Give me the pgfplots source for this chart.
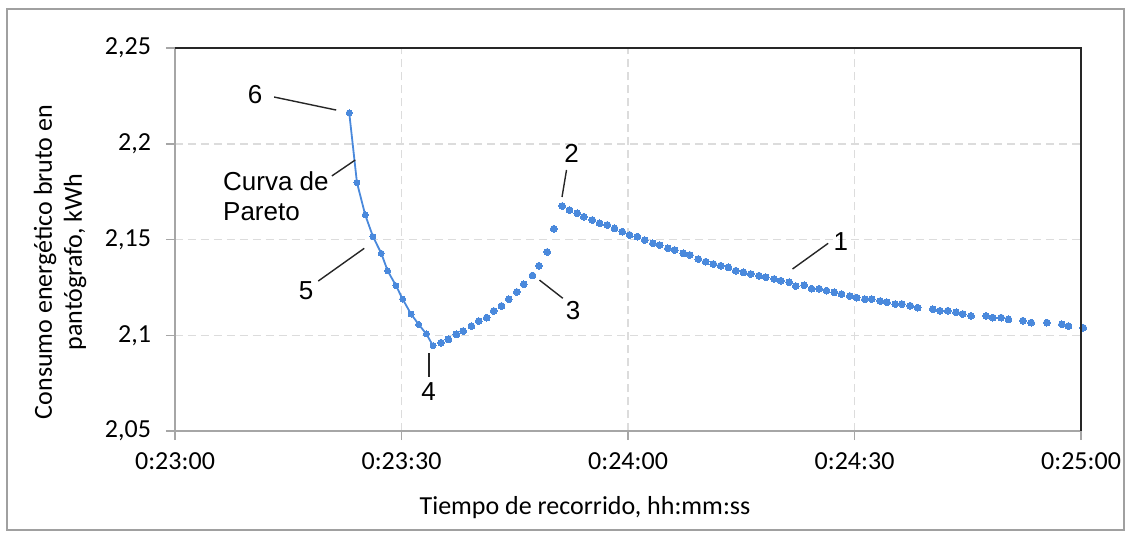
\documentclass[border=0pt]{standalone}
\usepackage{pgfplots}
\pgfplotsset{compat=1.18}
\usepackage{fontspec}
\setmainfont{Carlito}
\newfontfamily\arial{Liberation Sans}
\definecolor{dotblue}{RGB}{74,137,220}
\definecolor{gridgray}{RGB}{220,220,220}
\definecolor{axgray}{RGB}{166,166,166}
\definecolor{framegray}{RGB}{160,160,160}
\begin{document}
\begin{tikzpicture}
\begin{axis}[name=ax, at={(0pt,0pt)}, anchor=south west,
  scale only axis, width=453pt, height=191.5pt,
  xmin=1380, xmax=1500, ymin=2.05, ymax=2.25,
  xtick={1380,1410,1440,1470,1500},
  xticklabels={0:23:00,0:23:30,0:24:00,0:24:30,0:25:00},
  ytick={2.05,2.1,2.15,2.2,2.25},
  yticklabels={{2,05},{2,1},{2,15},{2,2},{2,25}},
  axis line style={draw=none},
  tick align=outside, major tick length=4.5pt,
  tick style={axgray, line width=0.75pt},
  tick pos=left,
  grid=major,
  major grid style={gridgray, dash pattern=on 4pt off 2.5pt, line width=0.75pt},
  ticklabel style={font=\fontsize{13}{15}\selectfont, text=black},
  yticklabel style={xshift=-4pt},
  xticklabel style={yshift=-3pt},
  clip=false,
]
% Pareto curve (line + markers)
\addplot[color=dotblue, line width=0.9pt, mark=*, mark size=1.5pt,
  mark options={solid, draw=dotblue, fill=dotblue, line width=0pt}] table {
t v
1403.08 2.2161
1404.10 2.1797
1405.20 2.1628
1406.22 2.1515
1407.32 2.1428
1408.16 2.1337
1409.27 2.1259
1410.15 2.1189
1411.26 2.1111
1412.27 2.1057
1413.29 2.1007
1414.18 2.0945
};
% Remaining points (markers only)
\addplot[color=dotblue, only marks, mark=*, mark size=1.7pt,
  mark options={draw=dotblue, fill=dotblue, line width=0pt}] table {
t v
1415.24 2.0961
1416.21 2.0979
1417.27 2.1005
1418.16 2.1022
1419.26 2.1048
1420.23 2.1074
1421.29 2.1092
1422.21 2.1127
1423.24 2.1153
1424.20 2.1188
1425.27 2.1226
1426.19 2.1266
1427.35 2.1312
1428.21 2.1363
1429.30 2.1435
1430.17 2.1556
1431.29 2.1675
1432.25 2.1654
1433.28 2.1637
1434.15 2.1619
1435.27 2.1602
1436.23 2.1585
1437.26 2.1576
1438.22 2.1558
1439.24 2.1541
1440.21 2.1524
1441.23 2.1515
1442.20 2.1497
1443.30 2.1480
1444.19 2.1471
1445.29 2.1454
1446.18 2.1445
1447.33 2.1428
1448.21 2.1419
1449.32 2.1398
1450.29 2.1384
1451.31 2.1372
1452.28 2.1363
1453.30 2.1355
1454.27 2.1337
1455.29 2.1329
1456.26 2.1320
1457.36 2.1311
1458.25 2.1303
1459.35 2.1294
1460.24 2.1285
1461.34 2.1277
1462.23 2.1257
1463.33 2.1261
1464.31 2.1243
1465.32 2.1243
1466.30 2.1233
1467.31 2.1224
1468.29 2.1215
1469.39 2.1205
1470.28 2.1196
1471.38 2.1188
1472.27 2.1189
1473.41 2.1179
1474.30 2.1172
1475.40 2.1163
1476.29 2.1163
1477.39 2.1154
1478.37 2.1144
1480.36 2.1136
1481.33 2.1128
1482.35 2.1128
1483.45 2.1120
1484.34 2.1111
1485.44 2.1101
1487.43 2.1101
1488.32 2.1092
1489.42 2.1092
1490.39 2.1083
1492.30 2.1076
1493.40 2.1066
1495.48 2.1066
1497.47 2.1057
1498.34 2.1048
1500.30 2.1039
};
% annotations
\tikzset{ann/.style={font=\arial\fontsize{13}{15}\selectfont, text=black}, lead/.style={black!85, line width=0.7pt}}
\node[ann] at (axis cs:1390.61,2.2255) {6};
\draw[lead] (axis cs:1393.13,2.2244) -- (axis cs:1401.35,2.2176);
\node[ann, anchor=base west, inner sep=0pt] at (axis cs:1386.33,2.1758) {Curva de};
\node[ann, anchor=base west, inner sep=0pt] at (axis cs:1386.33,2.1599) {Pareto};
\draw[lead] (axis cs:1400.78,2.1832) -- (axis cs:1403.87,2.1915);
\node[ann] at (axis cs:1432.52,2.1952) {2};
\draw[lead] (axis cs:1431.86,2.1863) -- (axis cs:1431.26,2.1722);
\node[ann] at (axis cs:1468.2,2.1487) {1};
\draw[lead] (axis cs:1461.79,2.1346) -- (axis cs:1466.51,2.1480);
\node[ann] at (axis cs:1432.72,2.1127) {3};
\draw[lead] (axis cs:1428.28,2.1288) -- (axis cs:1431.37,2.1193);
\node[ann] at (axis cs:1413.6,2.0707) {4};
\draw[lead] (axis cs:1413.65,2.0907) -- (axis cs:1413.65,2.0784);
\node[ann] at (axis cs:1397.37,2.1231) {5};
\draw[lead] (axis cs:1398.97,2.1283) -- (axis cs:1405.07,2.1454);
\end{axis}
% axis borders
\draw[axgray, line width=0.75pt] (ax.north west) -- (ax.south west) -- (ax.south east);
\draw[black!85, line width=0.9pt] (ax.north west) -- (ax.north east) -- (ax.south east);
% axis titles
\node[font=\fontsize{13}{15}\selectfont] at ([shift={(205pt,-38.5pt)}]ax.south west) {Tiempo de recorrido, hh:mm:ss};
\node[font=\fontsize{13}{15}\selectfont, rotate=90, align=center] at ([shift={(-57.5pt,84.5pt)}]ax.south west) {Consumo energético bruto en\\pantógrafo, kWh};
% outer frame
\draw[framegray, line width=0.6pt] ([shift={(-84pt,-49.5pt)}]ax.south west) rectangle ([shift={(474.5pt,211pt)}]ax.south west);
\pgfresetboundingbox
\useasboundingbox ([shift={(-87.5pt,-50.5pt)}]ax.south west) rectangle ([shift={(478pt,215.5pt)}]ax.south west);
\end{tikzpicture}
\end{document}
